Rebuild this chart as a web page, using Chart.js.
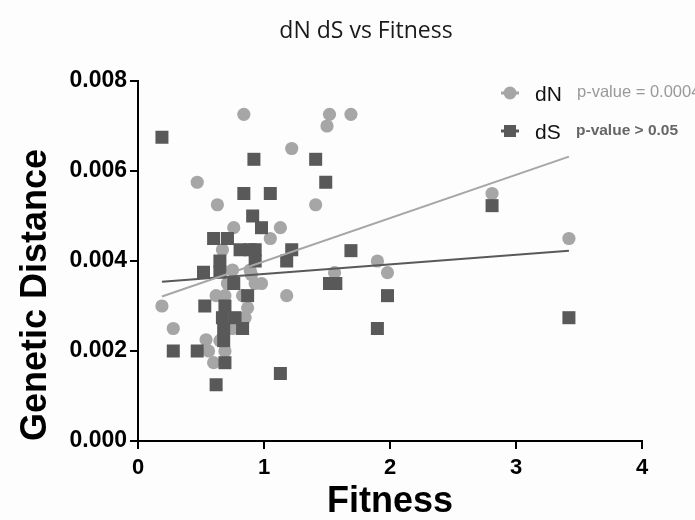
<!DOCTYPE html>
<html>
<head>
<meta charset="utf-8">
<script src="https://cdn.jsdelivr.net/npm/chart.js@4.4.1/dist/chart.umd.min.js"></script>
<style>
  body { margin: 0; background: #fdfdfd; }
  #wrap { width: 695px; height: 520px; }
</style>
</head>
<body>
<div id="wrap"><canvas id="plot"></canvas></div>
<script>
// values: fitness (x), genetic distance (y)
var dnX = [0.19, 0.28, 0.47, 0.54, 0.56, 0.60, 0.62, 0.63, 0.65, 0.67, 0.69, 0.69, 0.71, 0.75, 0.75, 0.76, 0.83, 0.84,
           0.85, 0.87, 0.89, 0.90, 0.93, 0.98, 1.05, 1.13, 1.18, 1.22, 1.41, 1.50, 1.52, 1.56, 1.69, 1.90, 1.98, 2.81, 3.42]
var dnY = [0.0030, 0.0025, 0.00575, 0.00225, 0.0020, 0.00174, 0.00323, 0.00525, 0.00223, 0.00425, 0.0020, 0.00323, 0.0035,
           0.0025, 0.0038, 0.00474, 0.00323, 0.00726, 0.00274, 0.00296, 0.0038, 0.0037, 0.0035, 0.0035, 0.0045, 0.00474,
           0.00323, 0.0065, 0.00525, 0.0070, 0.00726, 0.00374, 0.00726, 0.0040, 0.00374, 0.0055, 0.0045]

var dsX = [0.19, 0.28, 0.47, 0.52, 0.53, 0.60, 0.62, 0.65, 0.65, 0.67, 0.68, 0.68, 0.69, 0.69, 0.71, 0.76, 0.77, 0.81,
           0.83, 0.84, 0.87, 0.89, 0.91, 0.92, 0.93, 0.93, 0.98, 1.05, 1.13, 1.18, 1.22, 1.41, 1.49, 1.52, 1.57, 1.69,
           1.90, 1.98, 2.81, 3.42]
var dsY = [0.00675, 0.0020, 0.0020, 0.00375, 0.0030, 0.0045, 0.00125, 0.0040, 0.00375, 0.00274, 0.00223, 0.0025, 0.0030,
           0.00174, 0.0045, 0.0035, 0.00274, 0.00425, 0.0025, 0.0055, 0.00323, 0.00425, 0.0050, 0.00626, 0.00425, 0.0040,
           0.00474, 0.0055, 0.0015, 0.0040, 0.00425, 0.00626, 0.00575, 0.0035, 0.0035, 0.00423, 0.0025, 0.00323,
           0.00523, 0.00274]

// regression line ends
var fitX = [0.19, 3.42]
var fitN = [0.00321, 0.00632]
var fitS = [0.00354, 0.00423]

var yTicks = [0, 0.002, 0.004, 0.006, 0.008]
var xTicks = [0, 1, 2, 3, 4]

function pts(xs, ys) {
  return xs.map(function(x, i){ return {x: x, y: ys[i]} })
}

var lightGrey = "#a6a6a6"
var darkGrey = "#595959"

// title + legend drawn by hand, the original has them off-centre
var overlay = {
  id: "overlay",
  afterDraw: function(chart) {
    var c = chart.ctx
    c.save()
    c.fillStyle = "#1a1a1a"
    c.font = "23px 'Open Sans'"
    c.textAlign = "center"
    c.textBaseline = "alphabetic"
    c.fillText("dN dS vs Fitness", 366, 38)

    // dN entry
    c.strokeStyle = lightGrey
    c.lineWidth = 3
    c.beginPath(); c.moveTo(501, 93); c.lineTo(519, 93); c.stroke()
    c.fillStyle = lightGrey
    c.beginPath(); c.arc(510, 93, 6.5, 0, Math.PI * 2); c.fill()
    // dS entry
    c.strokeStyle = darkGrey
    c.beginPath(); c.moveTo(501, 131); c.lineTo(519, 131); c.stroke()
    c.fillStyle = darkGrey
    c.fillRect(504, 125, 12, 12)

    c.textAlign = "left"
    c.fillStyle = "#111"
    c.font = "21px 'Liberation Sans'"
    c.fillText("dN", 535, 101)
    c.fillText("dS", 535, 139)
    c.fillStyle = "#999"
    c.font = "16.5px 'Liberation Sans'"
    c.fillText("p-value = 0.0004", 577, 97)
    c.fillStyle = "#666"
    c.font = "bold 15.5px 'Liberation Sans'"
    c.fillText("p-value > 0.05", 576, 135)
    c.restore()
  }
}

var ctx = document.getElementById("plot").getContext("2d")

var chart = new Chart(ctx, {
  type: "scatter",
  data: {
    datasets: [
      {
        label: "dN fit",
        type: "line",
        data: pts(fitX, fitN),
        borderColor: lightGrey,
        borderWidth: 2,
        pointRadius: 0,
        order: 0
      },
      {
        label: "dS fit",
        type: "line",
        data: pts(fitX, fitS),
        borderColor: darkGrey,
        borderWidth: 2,
        pointRadius: 0,
        order: 0
      },
      {
        label: "dS",
        data: pts(dsX, dsY),
        pointStyle: "rect",
        pointRadius: 9.2,
        backgroundColor: darkGrey,
        borderWidth: 0,
        order: 1
      },
      {
        label: "dN",
        data: pts(dnX, dnY),
        pointStyle: "circle",
        pointRadius: 6.6,
        backgroundColor: lightGrey,
        borderWidth: 0,
        order: 2
      }
    ]
  },
  options: {
    responsive: true,
    maintainAspectRatio: false,
    animation: false,
    layout: { padding: { top: 81, right: 53, left: 0, bottom: 0 } },
    plugins: {
      legend: { display: false },
      tooltip: { enabled: false }
    },
    scales: {
      x: {
        type: "linear",
        min: 0,
        max: 4,
        afterBuildTicks: function(scale) {
          scale.ticks = xTicks.map(function(v){ return {value: v} })
        },
        afterFit: function(scale) { scale.height = 79 },
        grid: { drawOnChartArea: false, drawTicks: true, tickLength: 8, color: "#000", lineWidth: 2 },
        border: { color: "#000", width: 2 },
        ticks: {
          color: "#000",
          padding: 6,
          font: { family: "'Liberation Sans'", size: 22, weight: "bold" }
        },
        title: {
          display: true,
          text: "Fitness",
          color: "#000",
          padding: { top: 1, bottom: 0 },
          font: { family: "'Liberation Sans'", size: 36, weight: "bold", lineHeight: 1 }
        }
      },
      y: {
        type: "linear",
        min: 0,
        max: 0.008,
        afterBuildTicks: function(scale) {
          scale.ticks = yTicks.map(function(v){ return {value: v} })
        },
        afterFit: function(scale) { scale.width = 138 },
        grid: { drawOnChartArea: false, drawTicks: true, tickLength: 8, color: "#000", lineWidth: 2 },
        border: { color: "#000", width: 2 },
        ticks: {
          color: "#000",
          padding: 3,
          font: { family: "'Liberation Sans'", size: 23, weight: "bold" },
          callback: function(value) { return value.toFixed(3) }
        },
        title: {
          display: true,
          text: "Genetic Distance",
          align: "start",
          color: "#000",
          padding: { top: 18, bottom: 0 },
          font: { family: "'Liberation Sans'", size: 36, weight: "bold", lineHeight: 1 }
        }
      }
    }
  },
  plugins: [overlay]
})
</script>
</body>
</html>
